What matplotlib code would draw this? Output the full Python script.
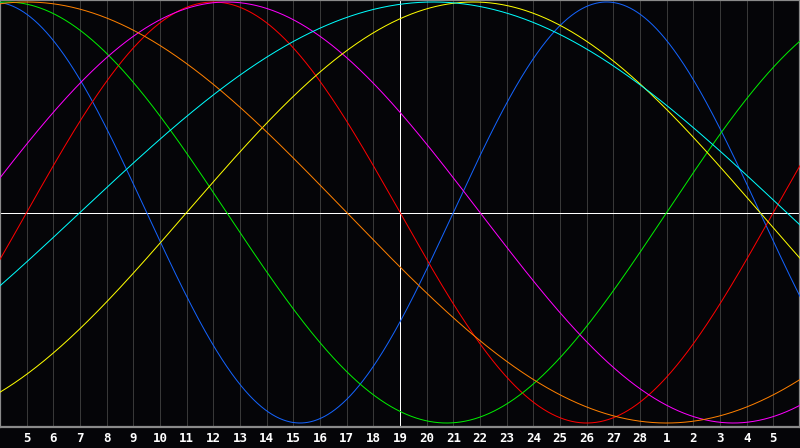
import numpy as np
import matplotlib
matplotlib.use('Agg')
import matplotlib.pyplot as plt

# Biorhythm chart, 30 days centred on the 19th
day_labels = [5, 6, 7, 8, 9, 10, 11, 12, 13, 14, 15, 16, 17, 18, 19, 20,
              21, 22, 23, 24, 25, 26, 27, 28, 1, 2, 3, 4, 5]
center_index = 14          # position of "19" in day_labels
days_lived = 29162         # days since birth on the centre day

# cycles: period in days and line colour
cycle_names = ['physical', 'emotional', 'intellectual', 'intuitive',
               'aesthetic', 'awareness', 'spiritual']
periods = [23, 28, 33, 38, 43, 48, 53]
colors = ['#1464ff', '#ff0000', '#00ee00', '#ff00ff',
          '#ffff00', '#ff8000', '#00ffff']

BG = '#050508'
GRID = '#383838'
BORDER = '#8a8a8a'

fig = plt.figure(figsize=(8, 4.48), dpi=100, facecolor=BG)
ax = fig.add_axes([0, 21 / 448, 1, 427 / 448])
ax.set_facecolor(BG)

# x is days relative to the centre day
ticks = np.arange(len(day_labels)) - center_index
ax.set_xlim(-15, 15)
ax.set_ylim(-1.019, 1.0095)

# day grid
for x in ticks:
    if x != 0:
        ax.axvline(x, color=GRID, lw=0.72, zorder=1)

# zero line and today marker
ax.axhline(0, color='white', lw=0.72, zorder=2)
ax.axvline(0, color='white', lw=0.72, zorder=2)

t = np.linspace(-15, 15, 1601)
for name, p, c in zip(cycle_names, periods, colors):
    y = np.sin(2 * np.pi * (days_lived + t) / p)
    ax.plot(t, y, color=c, lw=0.72, zorder=3, label=name)

for s in ax.spines.values():
    s.set_color(BORDER)
    s.set_linewidth(1.6)

ax.set_yticks([])
ax.set_xticks(ticks)
ax.set_xticklabels([str(d) for d in day_labels], color='white',
                   fontsize=9, fontweight='bold', family='DejaVu Sans Mono')
ax.tick_params(axis='x', length=0, pad=3.5)

fig.savefig('out.png', dpi=100, facecolor=BG)
